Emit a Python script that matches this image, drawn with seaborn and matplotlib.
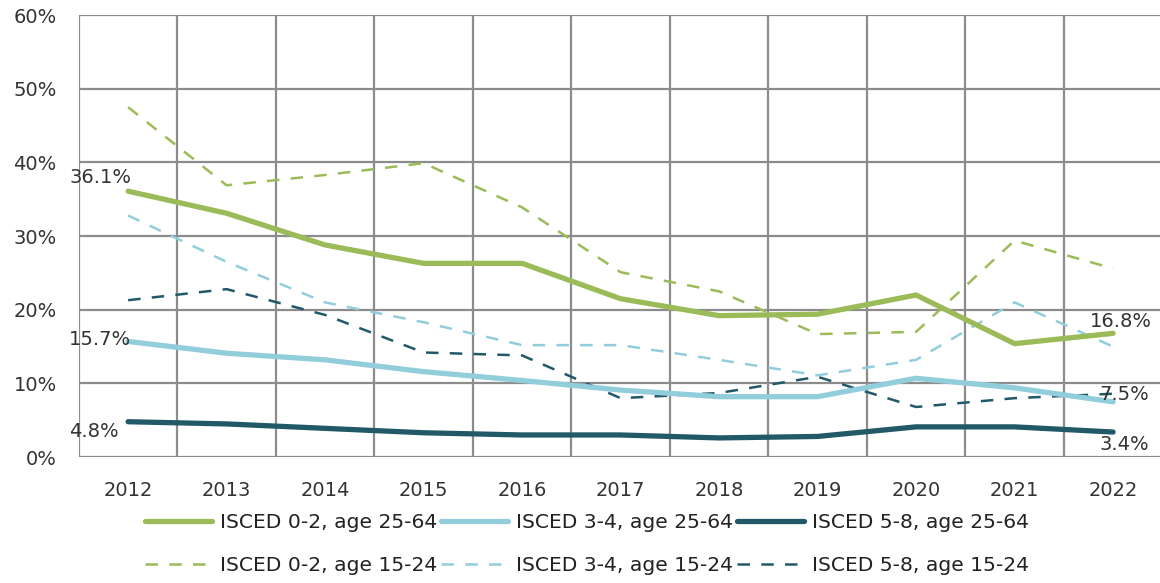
import numpy as np
import pandas as pd
import matplotlib
matplotlib.use("Agg")
import matplotlib.pyplot as plt
import seaborn as sns

sns.set_style("white")
plt.rcParams['font.family'] = ['DejaVu Sans']

# data (percent)
years = ['2012', '2013', '2014', '2015', '2016', '2017', '2018', '2019', '2020', '2021', '2022']
low_adult = [36.1, 33.1, 28.8, 26.3, 26.3, 21.5, 19.2, 19.4, 22.0, 15.4, 16.8]
mid_adult = [15.7, 14.1, 13.2, 11.6, 10.4, 9.1, 8.2, 8.2, 10.7, 9.4, 7.5]
high_adult = [4.8, 4.5, 3.9, 3.3, 3.0, 3.0, 2.6, 2.8, 4.1, 4.1, 3.4]
low_young = [47.5, 36.9, 38.3, 39.9, 33.9, 25.1, 22.5, 16.7, 17.0, 29.4, 25.6]
mid_young = [32.8, 26.5, 21.0, 18.3, 15.2, 15.2, 13.2, 11.1, 13.2, 21.0, 15.0]
high_young = [21.3, 22.8, 19.3, 14.2, 13.8, 8.0, 8.7, 10.9, 6.8, 8.0, 8.6]

labels = ['ISCED 0-2, age 25-64', 'ISCED 3-4, age 25-64', 'ISCED 5-8, age 25-64',
          'ISCED 0-2, age 15-24', 'ISCED 3-4, age 15-24', 'ISCED 5-8, age 15-24']
series = [low_adult, mid_adult, high_adult, low_young, mid_young, high_young]
colors = ['#9BBB59', '#92CDDC', '#215968', '#9BBB59', '#92CDDC', '#215968']

fig = plt.figure(figsize=(11.6, 5.83), dpi=100)
ax = fig.add_axes([0.068, 0.216, 0.934, 0.758])

x = np.arange(len(years))
handles = {}
for i, (lab, vals, col) in enumerate(zip(labels, series, colors)):
    df = pd.DataFrame({'x': x, 'y': vals})
    solid = i < 3
    sns.lineplot(data=df, x='x', y='y', ax=ax, color=col,
                 linewidth=3.8 if solid else 1.8, zorder=3 if solid else 2)
    line = ax.get_lines()[-1]
    if not solid:
        line.set_dashes((5, 4.5))
    line.set_label(lab)
    handles[lab] = line

# end labels
fs = 14
tc = '#333333'
ax.text(x[0] - 0.6, low_adult[0] + 1.8, f"{low_adult[0]:.1f}%", fontsize=fs, color=tc, va='center')
ax.text(x[0] - 0.6, mid_adult[0] + 0.3, f"{mid_adult[0]:.1f}%", fontsize=fs, color=tc, va='center')
ax.text(x[0] - 0.6, high_adult[0] - 1.3, f"{high_adult[0]:.1f}%", fontsize=fs, color=tc, va='center')
ax.text(x[-1] - 0.24, low_adult[-1] + 1.6, f"{low_adult[-1]:.1f}%", fontsize=fs, color=tc, va='center')
ax.text(x[-1] - 0.14, mid_adult[-1] + 1.0, f"{mid_adult[-1]:.1f}%", fontsize=fs, color=tc, va='center')
ax.text(x[-1] - 0.14, high_adult[-1] - 1.7, f"{high_adult[-1]:.1f}%", fontsize=fs, color=tc, va='center')

ax.set_xlim(-0.5, len(years) - 0.5)
ax.set_ylim(0, 60)
ax.set_yticks(range(0, 61, 10))
ax.set_yticklabels([f"{v}%" for v in range(0, 61, 10)], fontsize=fs, color=tc)
ax.set_xticks(x)
ax.set_xticklabels(years, fontsize=fs, color=tc)
ax.set_xticks(np.arange(-0.5, len(years), 1), minor=True)
ax.tick_params(axis='x', which='major', length=0, pad=17)
ax.tick_params(axis='x', which='minor', length=8, color='#8c8c8c', width=1.6)
ax.tick_params(axis='y', length=7, color='#8c8c8c', width=1.6, pad=9)
ax.grid(True, axis='y', which='major', color='#8c8c8c', linewidth=1.6)
ax.grid(True, axis='x', which='minor', color='#8c8c8c', linewidth=1.6)
ax.set_xlabel('')
ax.set_ylabel('')
for s in ax.spines.values():
    s.set_visible(False)

order = [0, 3, 1, 4, 2, 5]
leg = ax.legend([handles[labels[k]] for k in order], [labels[k] for k in order],
                ncol=3, loc='upper center', bbox_to_anchor=(0.469, -0.085),
                frameon=False, handlelength=3.3, handletextpad=0.38, columnspacing=0.22,
                labelspacing=1.2, prop={'family': 'DejaVu Sans', 'size': 14.6})
for t in leg.get_texts():
    t.set_color('#222222')

fig.savefig('out.png', dpi=100)
